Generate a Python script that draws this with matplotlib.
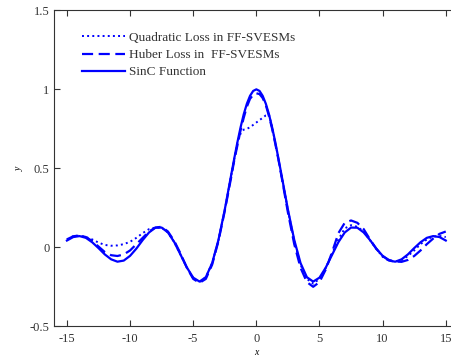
import matplotlib
matplotlib.use("Agg")
import matplotlib.pyplot as plt

plt.rcParams["font.family"] = ["Liberation Serif", "DejaVu Serif"]
plt.rcParams["axes.unicode_minus"] = False

x_vals = [-15, -14.5, -14, -13.5, -13, -12.5, -12, -11.5, -11, -10.5, -10,
          -9.5, -9, -8.5, -8, -7.5, -7, -6.5, -6, -5.5, -5, -4.5, -4, -3.5,
          -3, -2.5, -2, -1.75, -1.5, -1.25, -1, -0.75, -0.5, -0.25, 0,
          0.25, 0.5, 0.75, 1, 1.25, 1.5, 1.75, 2, 2.5, 3, 3.5, 4,
          4.5, 5, 5.5, 6, 6.5, 7, 7.5, 8, 8.5, 9, 9.5, 10, 10.5, 11, 11.5,
          12, 12.5, 13, 13.5, 14, 14.5, 15]

sinc_y = [0.043, 0.065, 0.071, 0.060, 0.032, -0.005, -0.045, -0.076, -0.091,
          -0.084, -0.054, -0.008, 0.046, 0.094, 0.124, 0.125, 0.094, 0.033,
          -0.047, -0.128, -0.192, -0.217, -0.189, -0.100, 0.047, 0.239, 0.455,
          0.562, 0.665, 0.759, 0.842, 0.909, 0.959, 0.990, 1.0,
          0.990, 0.959, 0.909, 0.842, 0.759, 0.665, 0.562, 0.455, 0.239, 0.047,
          -0.100, -0.189, -0.217, -0.192, -0.128, -0.047, 0.033, 0.094, 0.125,
          0.124, 0.094, 0.046, -0.008, -0.054, -0.084, -0.091, -0.076, -0.045,
          -0.005, 0.032, 0.060, 0.071, 0.065, 0.043]

huber_y = [0.05, 0.07, 0.075, 0.065, 0.04, 0.005, -0.03, -0.05, -0.055,
           -0.045, -0.02, 0.02, 0.06, 0.10, 0.125, 0.13, 0.10, 0.04, -0.04,
           -0.13, -0.20, -0.225, -0.20, -0.11, 0.04, 0.23, 0.44,
           0.55, 0.645, 0.74, 0.82, 0.89, 0.94, 0.965, 0.975,
           0.97, 0.945, 0.90, 0.83, 0.75, 0.655, 0.555, 0.445, 0.22, 0.02,
           -0.13, -0.22, -0.25, -0.22, -0.14, -0.03, 0.09, 0.155, 0.17, 0.155,
           0.115, 0.05, -0.01, -0.055, -0.08, -0.09, -0.092, -0.08, -0.055,
           -0.02, 0.02, 0.055, 0.085, 0.10]

quad_y = [0.05, 0.07, 0.075, 0.065, 0.05, 0.03, 0.015, 0.01, 0.012, 0.02,
          0.035, 0.06, 0.09, 0.115, 0.125, 0.125, 0.094, 0.033, -0.047,
          -0.128, -0.195, -0.22, -0.19, -0.10, 0.045, 0.235, 0.45,
          0.56, 0.66, 0.72, 0.745, 0.75, 0.76, 0.775, 0.79,
          0.805, 0.82, 0.835, 0.84, 0.76, 0.665, 0.56, 0.45, 0.235, 0.04,
          -0.11, -0.20, -0.23, -0.20, -0.13, -0.04, 0.05, 0.12, 0.14, 0.13,
          0.10, 0.045, -0.01, -0.06, -0.085, -0.09, -0.082, -0.055, -0.02,
          0.02, 0.05, 0.068, 0.072, 0.065]

x_ticks = [-15, -10, -5, 0, 5, 10, 15]
y_ticks = [-0.5, 0, 0.5, 1, 1.5]
y_tick_labels = ["-0.5", "0", "0.5", "1", "1.5"]

fig = plt.figure(figsize=(4.51, 3.57), dpi=100)
ax = fig.add_axes([0.1204, 0.086, 0.896, 0.885])

ax.plot(x_vals, quad_y, color="blue", linestyle=":", linewidth=1.4,
        label="Quadratic Loss in FF-SVESMs")
ax.plot(x_vals, huber_y, color="blue", linestyle=(0, (5, 2.5)), linewidth=1.6,
        label="Huber Loss in  FF-SVESMs")
ax.plot(x_vals, sinc_y, color="blue", linestyle="-", linewidth=1.6,
        label="SinC Function")

ax.set_xlim(-16, 16)
ax.set_ylim(-0.5, 1.5)
ax.set_xticks(x_ticks)
ax.set_yticks(y_ticks)
ax.set_yticklabels(y_tick_labels)
ax.tick_params(direction="in", top=True, right=False, length=4,
               labelsize=9, colors="#333333")
ax.tick_params(axis="x", pad=5)
ax.spines["right"].set_visible(False)
for s in ax.spines.values():
    s.set_color("#333333")

ax.set_xlabel("x", fontsize=7, labelpad=2, style="italic")
ax.set_ylabel("y", fontsize=7, labelpad=4, style="italic")

ax.legend(loc="upper left", bbox_to_anchor=(0.04, 0.97), frameon=False,
          fontsize=9.5, handlelength=3.2, handletextpad=0.3,
          labelspacing=0.38, labelcolor="#333333")

fig.savefig("out.png", dpi=100)
